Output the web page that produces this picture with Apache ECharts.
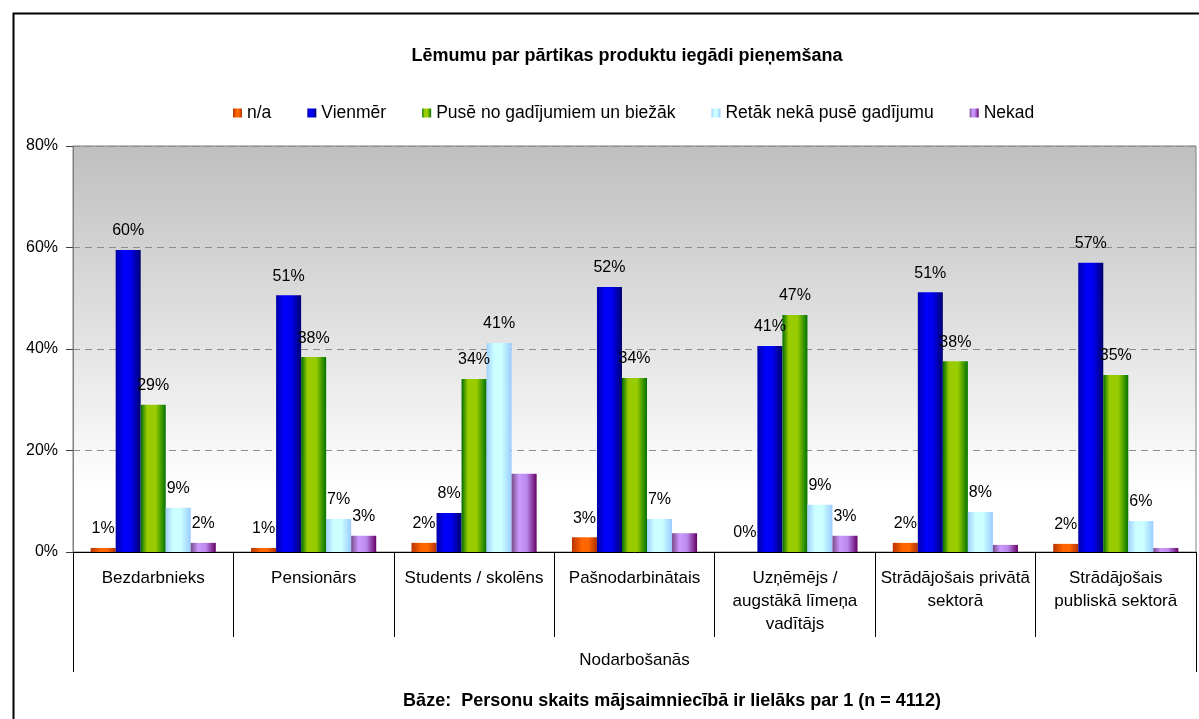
<!DOCTYPE html>
<html>
<head>
<meta charset="utf-8">
<script src="https://cdn.jsdelivr.net/npm/echarts@6/dist/echarts.min.js"></script>
<style>
  html, body { margin: 0; padding: 0; background: #fff; }
  #chart { width: 1199px; height: 719px; }
</style>
</head>
<body>
<div id="chart"></div>
<script>
// Nodarbošanās grupas
const categories = [
  'Bezdarbnieks',
  'Pensionārs',
  'Students / skolēns',
  'Pašnodarbinātais',
  'Uzņēmējs /\naugstākā līmeņa\nvadītājs',
  'Strādājošais privātā\nsektorā',
  'Strādājošais\npubliskā sektorā'
]
const seriesNames = ['n/a', 'Vienmēr', 'Pusē no gadījumiem un biežāk', 'Retāk nekā pusē gadījumu', 'Nekad']

// values, %
const naData = [0.8, 0.8, 1.8, 2.9, 0, 1.8, 1.6]
const vienmerData = [59.5, 50.6, 7.7, 52.2, 40.6, 51.2, 57.0]
const puseData = [29.0, 38.4, 34.1, 34.3, 46.7, 37.6, 34.9]
const retakData = [8.7, 6.5, 41.2, 6.5, 9.3, 7.9, 6.1]
const nekadData = [1.8, 3.2, 15.4, 3.7, 3.2, 1.4, 0.8]

const yMin = 0
const yMax = 80
const yStep = 20

// labels that the original chart does not show (series -> category indexes)
const hiddenLabels = { 'Nekad': [2, 3, 5, 6] }

const groupLevel = ['Nodarbošanās']

let dom = document.getElementById('chart')
let chart = echarts.init(dom)

function grad (stops) {
  return new echarts.graphic.LinearGradient(0, 0, 1, 0,
    stops.map(function (s) { return { offset: s[0], color: s[1] } }))
}

const barColors = [
  grad([[0, '#b83300'], [0.4, '#ff6600'], [0.65, '#ff6600'], [1, '#b33000']]),
  grad([[0, '#0000a8'], [0.35, '#0000ff'], [0.6, '#0000ee'], [1, '#000070']]),
  grad([[0, '#006c00'], [0.25, '#99cc00'], [0.6, '#99cc00'], [1, '#007400']]),
  grad([[0, '#a0d0ff'], [0.3, '#ccffff'], [0.6, '#ccffff'], [1, '#99ccff']]),
  grad([[0, '#7a4a8a'], [0.3, '#cc99ff'], [0.6, '#bb88ee'], [1, '#660066']])
]
const dataSets = [naData, vienmerData, puseData, retakData, nekadData]

let series = seriesNames.map(function (name, i) {
  return {
    name: name,
    type: 'bar',
    barGap: '0%',
    barCategoryGap: '22%',
    data: dataSets[i],
    itemStyle: { color: barColors[i] },
    label: {
      show: true,
      position: 'top',
      distance: 11,
      color: '#000',
      fontSize: 16,
      fontFamily: 'Liberation Sans, Arial',
      formatter: function (p) {
        let hide = hiddenLabels[p.seriesName]
        if (hide && hide.indexOf(p.dataIndex) > -1) return ''
        return Math.round(p.value) + '%'
      }
    }
  }
})

let option = {
  backgroundColor: '#fff',
  animation: false,
  textStyle: { fontFamily: 'Liberation Sans, Arial', color: '#000' },
  title: [{
    text: 'Lēmumu par pārtikas produktu iegādi pieņemšana',
    left: 622,
    top: 42,
    textAlign: 'center',
    textStyle: { fontSize: 18, fontWeight: 'bold', color: '#000' }
  }, {
    text: 'Bāze:  Personu skaits mājsaimniecībā ir lielāks par 1 (n = 4112)',
    left: 667,
    top: 687,
    textAlign: 'center',
    textStyle: { fontSize: 18, fontWeight: 'bold', color: '#000' }
  }],
  legend: {
    data: seriesNames,
    left: 233,
    top: 104,
    padding: 0,
    icon: 'rect',
    itemWidth: 9,
    itemHeight: 9,
    itemGap: 36,
    textStyle: { fontSize: 17.5, color: '#000' }
  },
  grid: {
    left: 73,
    right: 3,
    top: 146,
    bottom: 167,
    show: true,
    borderColor: '#808080',
    borderWidth: 1,
    backgroundColor: new echarts.graphic.LinearGradient(0, 0, 0, 1, [
      { offset: 0, color: '#bfbfbf' },
      { offset: 0.85, color: '#ffffff' },
      { offset: 1, color: '#ffffff' }
    ])
  },
  xAxis: [{
    type: 'category',
    data: categories,
    position: 'bottom',
    axisLine: { show: true, lineStyle: { color: '#000', width: 1 } },
    axisTick: { show: true, interval: 0, length: 85, lineStyle: { color: '#000' } },
    axisLabel: { interval: 0, margin: 15, fontSize: 17, lineHeight: 23, color: '#000' },
    splitLine: { show: false }
  }, {
    type: 'category',
    data: groupLevel,
    position: 'bottom',
    axisLine: { show: false },
    axisTick: { show: true, length: 120, lineStyle: { color: '#000' } },
    axisLabel: { margin: 97, fontSize: 17, lineHeight: 23, color: '#000' },
    splitLine: { show: false }
  }],
  yAxis: {
    type: 'value',
    min: yMin,
    max: yMax,
    interval: yStep,
    axisLine: { show: true, lineStyle: { color: '#808080' } },
    axisTick: { show: true, length: 7, lineStyle: { color: '#404040' } },
    axisLabel: { formatter: '{value}%', fontSize: 16, color: '#000', margin: 15 },
    splitLine: { show: true, lineStyle: { color: '#8c8c8c', type: [7, 5] } }
  },
  graphic: [{
    type: 'rect',
    left: 11,
    top: 11,
    shape: { width: 1200, height: 720 },
    style: { fill: 'none', stroke: '#000', lineWidth: 2 },
    silent: true
  }],
  series: series
}

chart.setOption(option)
</script>
</body>
</html>
